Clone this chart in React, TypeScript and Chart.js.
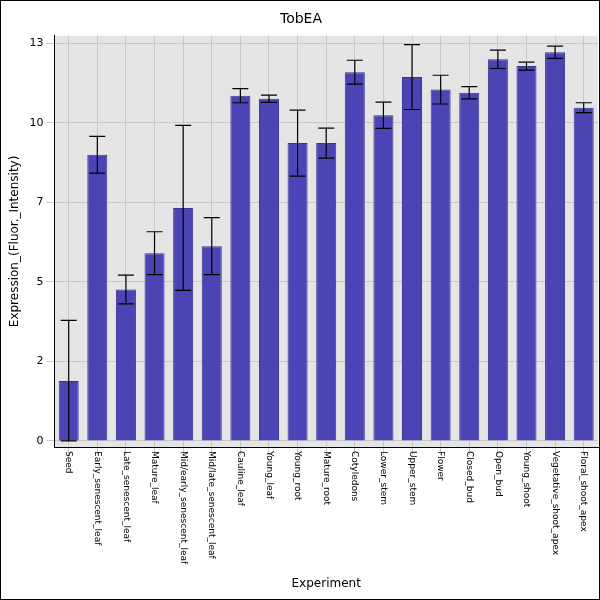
import React, { useEffect, useRef } from "react";
import { Chart, registerables } from "chart.js";
Chart.register(...registerables);

const categories = ["Seed","Early_senescent_leaf","Late_senescent_leaf","Mature_leaf","Mid/early_senescent_leaf","Mid/late_senescent_leaf","Cauline_leaf","Young_leaf","Young_root","Mature_root","Cotyledons","Lower_stem","Upper_stem","Flower","Closed_bud","Open_bud","Young_shoot","Vegetative_shoot_apex","Floral_shoot_apex"];
const values = [1.96,9.36,4.95,6.14,7.62,6.37,11.29,11.19,9.74,9.74,12.06,10.65,11.9,11.49,11.39,12.48,12.26,12.71,10.9];
const errors = [1.98,0.6,0.47,0.7,2.7,0.93,0.23,0.12,1.08,0.49,0.39,0.43,1.06,0.47,0.2,0.3,0.13,0.2,0.16];
const tickValues = [0,2.6,5.2,7.8,10.4,13];

export default function App() {
  const ref = useRef<HTMLCanvasElement>(null);
  useEffect(() => {
    document.body.style.margin = "0";
    const bg = {
      id: "bg",
      beforeDraw(c: any) {
        const { ctx, chartArea: a } = c;
        ctx.save();
        ctx.fillStyle = "#fff";
        ctx.fillRect(0, 0, c.width, c.height);
        ctx.fillStyle = "#e5e5e5";
        ctx.fillRect(a.left, a.top, a.right - a.left, a.bottom - a.top);
        ctx.restore();
      },
      afterDraw(c: any) {
        const { ctx, chartArea: a } = c;
        const x = c.scales.x;
        ctx.save();
        ctx.fillStyle = "#000";
        ctx.font = "9px 'DejaVu Sans'";
        ctx.textAlign = "left";
        ctx.textBaseline = "middle";
        categories.forEach((l, i) => {
          const px = x.getPixelForValue(i);
          ctx.save();
          ctx.translate(px, a.bottom + 4);
          ctx.rotate(Math.PI / 2);
          ctx.fillText(l, 0, 0);
          ctx.restore();
        });
        ctx.font = "12px 'DejaVu Sans'";
        ctx.textAlign = "center";
        ctx.fillText("Experiment", (a.left + a.right) / 2, 584);
        ctx.strokeStyle = "#000";
        ctx.lineWidth = 1;
        ctx.strokeRect(0.5, 0.5, c.width - 1, c.height - 1);
        ctx.restore();
      },
    };
    const err = {
      id: "err",
      afterDatasetsDraw(c: any) {
        const { ctx } = c;
        const y = c.scales.y;
        const meta = c.getDatasetMeta(0);
        ctx.save();
        ctx.strokeStyle = "#000";
        ctx.lineWidth = 1.2;
        meta.data.forEach((b: any, i: number) => {
          const x = b.x;
          const hi = y.getPixelForValue(values[i] + errors[i]);
          const lo = y.getPixelForValue(Math.max(0, values[i] - errors[i]));
          ctx.beginPath();
          ctx.moveTo(x, hi); ctx.lineTo(x, lo);
          ctx.moveTo(x - 8, hi); ctx.lineTo(x + 8, hi);
          ctx.moveTo(x - 8, lo); ctx.lineTo(x + 8, lo);
          ctx.stroke();
        });
        ctx.restore();
      },
    };
    const chart = new Chart(ref.current!, {
      type: "bar",
      data: {
        labels: categories,
        datasets: [{ data: values, backgroundColor: "#4b44b4", borderColor: "#3a3490", borderWidth: 1, barPercentage: 0.7, categoryPercentage: 1 }],
      },
      options: {
        animation: false,
        responsive: false,
        layout: { padding: { right: 2, top: 0, bottom: 145, left: 4 } },
        plugins: {
          legend: { display: false },
          tooltip: { enabled: false },
          title: { display: true, text: "TobEA", color: "#000", font: { family: "DejaVu Sans", size: 14, weight: "normal" }, padding: { top: 11, bottom: 8 } },
        },
        scales: {
          x: {
            grid: { color: "#c8c8c8", offset: false },
            border: { color: "#000" },
            ticks: { display: false },
          },
          y: {
            min: -0.2, max: 13.25,
            afterBuildTicks(s: any) { s.ticks = tickValues.map((v) => ({ value: v })); },
            grid: { color: "#c8c8c8" },
            border: { color: "#000" },
            ticks: { color: "#000", font: { family: "DejaVu Sans", size: 11 }, callback: (v: any) => String(Math.floor(Number(v))) },
            title: { display: true, text: "Expression_(Fluor._Intensity)", color: "#000", font: { family: "DejaVu Sans", size: 12 } },
          },
        },
      },
      plugins: [bg, err],
    });
    return () => chart.destroy();
  }, []);
  return <canvas ref={ref} width={600} height={600} style={{ display: "block" }} />;
}
